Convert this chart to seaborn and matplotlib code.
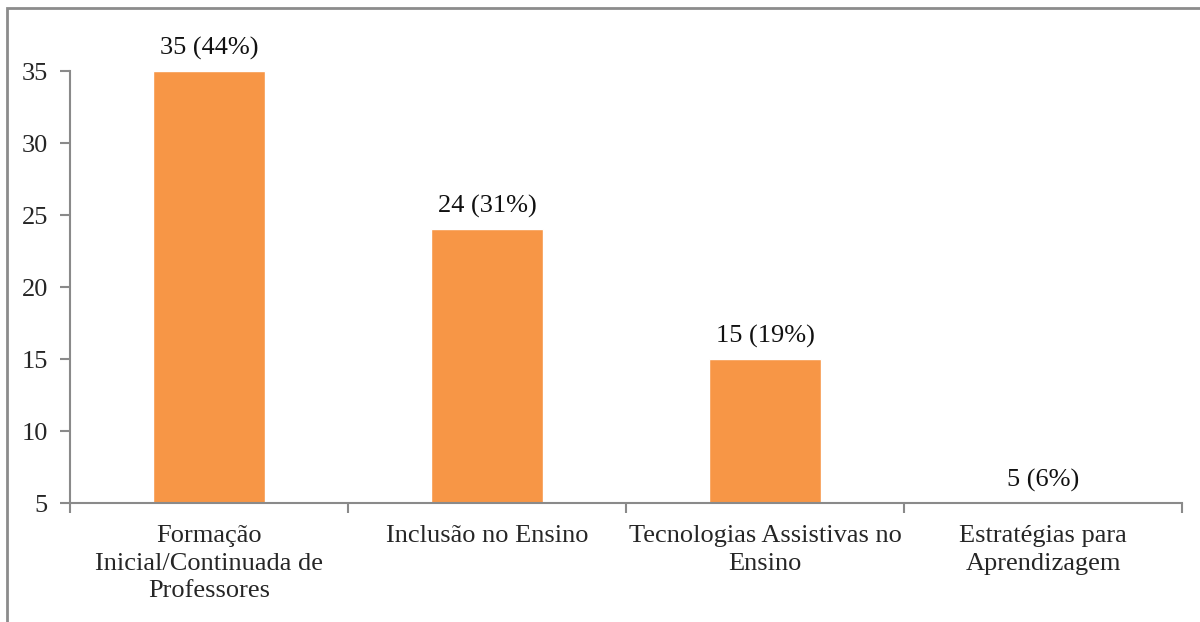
import matplotlib
matplotlib.use("Agg")
import matplotlib.pyplot as plt
from matplotlib.patches import Rectangle
from matplotlib.ticker import FixedLocator
import seaborn as sns
import pandas as pd

categories = [
    "Formação\nInicial/Continuada de\nProfessores",
    "Inclusão no Ensino",
    "Tecnologias Assistivas no\nEnsino",
    "Estratégias para\nAprendizagem",
]
counts = [35, 24, 15, 5]
percents = [44, 31, 19, 6]
yticks = [5, 10, 15, 20, 25, 30, 35]

sns.set_theme(style="white")
plt.rcParams["font.family"] = ["Liberation Serif", "DejaVu Serif"]

AXIS_GREY = "#8a8a8a"
BAR_ORANGE = "#F79646"
FS = 19

df = pd.DataFrame({"categoria": categories, "total": counts})

fig = plt.figure(figsize=(12, 6.22), dpi=100)
ax = fig.add_axes([70 / 1200, 1 - 503 / 622, 1112 / 1200, 432 / 622])

sns.barplot(data=df, x="categoria", y="total", color=BAR_ORANGE,
            saturation=1, width=0.4, ax=ax)

ax.set_ylim(5, 35)
ax.set_xlim(-0.5, len(categories) - 0.5)
ax.set_yticks(yticks)
ax.set_yticklabels([str(t) for t in yticks], fontsize=FS)
ax.set_xlabel("")
ax.set_ylabel("")

# category labels centred, ticks on the category boundaries
ax.set_xticks(range(len(categories)))
ax.set_xticklabels(categories, fontsize=FS, linespacing=1.32)
ax.tick_params(axis="x", which="major", length=0, pad=16)
ax.xaxis.set_minor_locator(FixedLocator([i - 0.5 for i in range(len(categories) + 1)]))
ax.tick_params(axis="x", which="minor", length=7, width=1.5, color=AXIS_GREY,
               direction="out", bottom=True)
ax.tick_params(axis="y", length=7, width=1.5, color=AXIS_GREY,
               direction="out", left=True, pad=9)

for side in ("top", "right"):
    ax.spines[side].set_visible(False)
for side in ("left", "bottom"):
    ax.spines[side].set_color(AXIS_GREY)
    ax.spines[side].set_linewidth(1.5)

for i, (c, p) in enumerate(zip(counts, percents)):
    ax.annotate(f"{c} ({p}%)", xy=(i, max(c, 5)), xytext=(0, 8),
                textcoords="offset points", ha="center", va="bottom",
                fontsize=FS, color="#111111", annotation_clip=False)

# outer chart frame
fig.patches.append(Rectangle((7 / 1200, -0.1), 1.2, 1 - 8 / 622 + 0.1,
                             transform=fig.transFigure, fill=False,
                             edgecolor="#8c8c8c", linewidth=2))

fig.savefig("out.png", dpi=100)
